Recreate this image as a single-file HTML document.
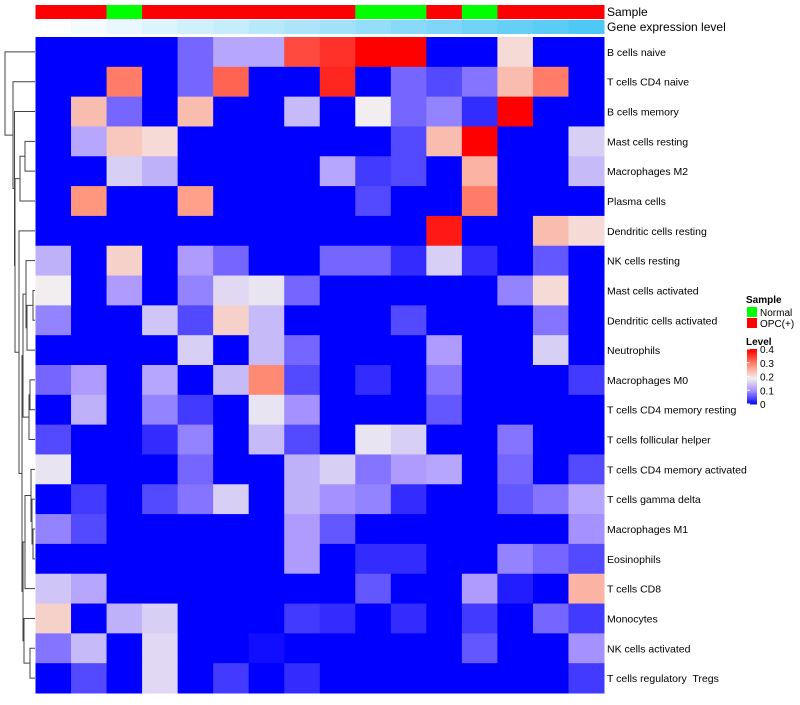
<!DOCTYPE html>
<html><head><meta charset="utf-8"><style>
body{margin:0;background:#fff;font-family:"Liberation Sans",sans-serif;}
svg text{font-family:"Liberation Sans",sans-serif;}
</style></head><body>
<svg id="c" width="800" height="700" xmlns="http://www.w3.org/2000/svg"></svg>
<script>
const rowNames=["B cells naive","T cells CD4 naive","B cells memory","Mast cells resting","Macrophages M2","Plasma cells","Dendritic cells resting","NK cells resting","Mast cells activated","Dendritic cells activated","Neutrophils","Macrophages M0","T cells CD4 memory resting","T cells follicular helper","T cells CD4 memory activated","T cells gamma delta","Macrophages M1","Eosinophils","T cells CD8","Monocytes","NK cells activated","T cells regulatory  Tregs"];
const sampleGroups=["OPC","OPC","Normal","OPC","OPC","OPC","OPC","OPC","OPC","Normal","Normal","OPC","Normal","OPC","OPC","OPC"];
const geneLevel=[0,0.07,0.13,0.2,0.27,0.33,0.4,0.47,0.53,0.6,0.67,0.73,0.8,0.87,0.93,1];
const legendTicks=[0,0.1,0.2,0.3,0.4];
const r0=[0,0,0,0,0.07,0.12,0.12,0.34,0.36,0.4,0.4,0,0,0.21,0,0];
const r1=[0,0,0.3,0,0.07,0.32,0,0,0.37,0,0.07,0.05,0.08,0.24,0.3,0];
const r2=[0,0.24,0.07,0,0.24,0,0,0.14,0,0.19,0.07,0.09,0.03,0.4,0,0];
const r3=[0,0.12,0.23,0.21,0,0,0,0,0,0,0.05,0.24,0.4,0,0,0.16];
const r4=[0,0,0.16,0.13,0,0,0,0,0.12,0.04,0.05,0,0.25,0,0,0.14];
const r5=[0,0.28,0,0,0.27,0,0,0,0,0.05,0,0,0.3,0,0,0];
const r6=[0,0,0,0,0,0,0,0,0,0,0,0.38,0,0,0.24,0.21];
const r7=[0.13,0,0.22,0,0.11,0.07,0,0,0.07,0.07,0.03,0.16,0.03,0,0.06,0];
const r8=[0.19,0,0.11,0,0.09,0.17,0.18,0.07,0,0,0,0,0,0.09,0.21,0];
const r9=[0.09,0,0,0.15,0.05,0.22,0.14,0,0,0,0.05,0,0,0,0.08,0];
const r10=[0,0,0,0,0.16,0,0.14,0.07,0,0,0,0.11,0,0,0.16,0];
const r11=[0.07,0.11,0,0.12,0,0.14,0.29,0.05,0,0.03,0,0.08,0,0,0,0.04];
const r12=[0,0.13,0,0.09,0.04,0,0.18,0.1,0,0,0,0.06,0,0,0,0];
const r13=[0.05,0,0,0.03,0.09,0,0.14,0.05,0,0.18,0.16,0,0,0.08,0,0];
const r14=[0.18,0,0,0,0.07,0,0,0.13,0.16,0.08,0.11,0.12,0,0.07,0,0.05];
const r15=[0,0.04,0,0.05,0.08,0.16,0,0.13,0.1,0.09,0.03,0,0,0.06,0.08,0.12];
const r16=[0.09,0.05,0,0,0,0,0,0.11,0.06,0,0,0,0,0,0,0.1];
const r17=[0,0,0,0,0,0,0,0.11,0,0.03,0.03,0,0,0.09,0.07,0.05];
const r18=[0.15,0.12,0,0,0,0,0,0,0,0.06,0,0,0.11,0.02,0,0.25];
const r19=[0.22,0,0.13,0.16,0,0,0,0.04,0.03,0,0.03,0,0.04,0,0.07,0.04];
const r20=[0.08,0.14,0,0.17,0,0,0.01,0,0,0,0,0,0.06,0,0,0.1];
const r21=[0,0.05,0,0.17,0,0.04,0,0.03,0,0,0,0,0,0,0,0.04];
const values=[r0,r1,r2,r3,r4,r5,r6,r7,r8,r9,r10,r11,r12,r13,r14,r15,r16,r17,r18,r19,r20,r21];

const NS="http://www.w3.org/2000/svg";
const svg=document.getElementById('c');
const X0=35.5,X1=604,Y0=37,Y1=693;
const nC=16,nR=rowNames.length;
const cw=(X1-X0)/nC, rh=(Y1-Y0)/nR;
const xs=i=>X0+i*cw, ys=j=>Y0+j*rh;
function mk(t,a){const e=document.createElementNS(NS,t);for(const k in a)e.setAttribute(k,a[k]);svg.appendChild(e);return e;}
const stops=[[0,[0,0,255]],[0.1,[165,145,255]],[0.19,[242,238,240]],[0.28,[255,150,125]],[0.4,[255,0,0]]];
function col(v){v=Math.max(0,Math.min(0.4,v));for(let i=1;i<stops.length;i++){if(v<=stops[i][0]){const a=stops[i-1],b=stops[i];const t=(v-a[0])/(b[0]-a[0]);const c=a[1].map((x,k)=>Math.round(x+(b[1][k]-x)*t));return `rgb(${c})`;}}return 'rgb(255,0,0)';}
sampleGroups.forEach((g,i)=>{const r=mk('rect',{x:xs(i),y:5,width:cw+0.5,height:14,fill:g==='Normal'?'#00ff00':'#ff0000'});

});
geneLevel.forEach((g,i)=>{const c=[255+(78-255)*g,255+(200-255)*g,255+(245-255)*g].map(Math.round);const r=mk('rect',{x:xs(i),y:20,width:cw+0.5,height:14,fill:`rgb(${c})`});

});
let t=mk('text',{x:607,y:16,'font-size':12});t.textContent='Sample';


t=mk('text',{x:607,y:31,'font-size':12});t.textContent='Gene expression level';


values.forEach((row,j)=>row.forEach((v,i)=>{const r=mk('rect',{x:xs(i),y:ys(j),width:cw+0.5,height:rh+0.5,fill:col(v)});

}));
rowNames.forEach((n,j)=>{const e=mk('text',{x:607,y:ys(j)+rh/2+4,'font-size':10.5});e.setAttribute('xml:space','preserve');e.style.whiteSpace='pre';e.textContent=n;

});
const tree=[5,0,[13,1,[14.5,2,[15,[20,[25,3,4],5],[19,6,[22,[23,[26,7,[27,[33,8,9],10]],[29,[30,11,12],13]],[23,[25,[31,14,[32,15,[33,16,17]]],18],[24,19,[30,20,21]]]]]]]]];
function dr(n){if(typeof n==='number')return {x:35,y:ys(n)+rh/2};const a=dr(n[1]),b=dr(n[2]);const x=n[0];
const p=mk('path',{d:`M${a.x},${a.y}H${x}V${b.y}H${b.x}`,fill:'none',stroke:'#444','stroke-width':1});


return {x:x,y:(a.y+b.y)/2};}
dr(tree);
t=mk('text',{x:746,y:303,'font-size':10,'font-weight':'bold'});t.textContent='Sample';


[['Normal','#00ff00',307],['OPC(+)','#ff0000',318]].forEach(([n,c,y])=>{const r=mk('rect',{x:747,y:y,width:10,height:10,fill:c});


const e=mk('text',{x:760,y:y+9,'font-size':10});e.textContent=n;

});
t=mk('text',{x:746,y:345,'font-size':10,'font-weight':'bold'});t.textContent='Level';


const LT=349,LB=404;
for(let k=0;k<40;k++){const v=0.4-k*0.01;const r=mk('rect',{x:747,y:LT+k*(LB-LT)/40,width:10,height:(LB-LT)/40+0.5,fill:col(v)});

}
legendTicks.forEach(v=>{const y=LB-(v/0.4)*(LB-LT);
const l=mk('line',{x1:747,x2:750,y1:y,y2:y,stroke:'#fff'});


const e=mk('text',{x:760,y:y+4,'font-size':10});e.textContent=String(v);

});
</script>
</body></html>
